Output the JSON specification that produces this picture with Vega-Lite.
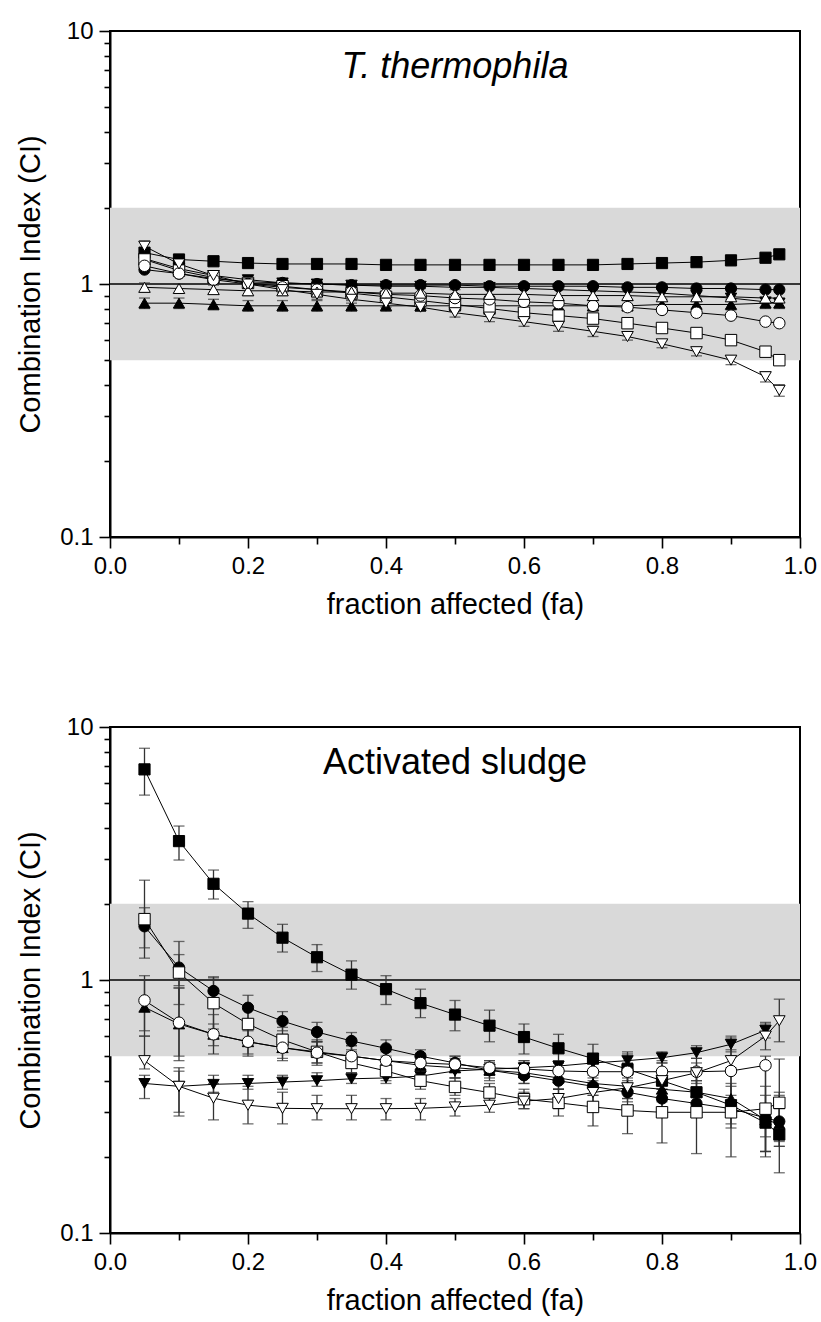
{
  "$schema": "https://vega.github.io/schema/vega-lite/v6.json",
  "padding": {"left": 15, "top": 18, "right": 10, "bottom": 10},
  "spacing": 190,
  "bounds": "flush",
  "config": {
    "font": "Liberation Sans",
    "view": {"stroke": "black", "strokeWidth": 2},
    "axis": {
      "grid": false,
      "domainColor": "black",
      "domainWidth": 2,
      "tickColor": "black",
      "tickWidth": 1.6,
      "labelColor": "black",
      "titleColor": "black",
      "labelFont": "Liberation Sans",
      "titleFont": "Liberation Sans",
      "labelFontSize": 24,
      "titleFontSize": 29,
      "titleFontWeight": "normal",
      "labelOverlap": false,
      "labelFlush": false,
      "labelBound": false
    }
  },
  "datasets": {
    "band": [{"lo": 0.5, "hi": 2, "one": 1}],
    "top": [
      {"s":"s1","fa":0.05,"ci":1.33},{"s":"s1","fa":0.1,"ci":1.25},{"s":"s1","fa":0.15,"ci":1.23},{"s":"s1","fa":0.2,"ci":1.21},{"s":"s1","fa":0.25,"ci":1.2},{"s":"s1","fa":0.3,"ci":1.2},{"s":"s1","fa":0.35,"ci":1.2},{"s":"s1","fa":0.4,"ci":1.19},{"s":"s1","fa":0.45,"ci":1.19},{"s":"s1","fa":0.5,"ci":1.19},{"s":"s1","fa":0.55,"ci":1.19},{"s":"s1","fa":0.6,"ci":1.19},{"s":"s1","fa":0.65,"ci":1.19},{"s":"s1","fa":0.7,"ci":1.19},{"s":"s1","fa":0.75,"ci":1.2},{"s":"s1","fa":0.8,"ci":1.21},{"s":"s1","fa":0.85,"ci":1.22},{"s":"s1","fa":0.9,"ci":1.24},{"s":"s1","fa":0.95,"ci":1.27},{"s":"s1","fa":0.97,"ci":1.31},
      {"s":"s2","fa":0.05,"ci":1.14},{"s":"s2","fa":0.1,"ci":1.1},{"s":"s2","fa":0.15,"ci":1.05},{"s":"s2","fa":0.2,"ci":1.02},{"s":"s2","fa":0.25,"ci":1.01},{"s":"s2","fa":0.3,"ci":1.0},{"s":"s2","fa":0.35,"ci":0.99},{"s":"s2","fa":0.4,"ci":0.99},{"s":"s2","fa":0.45,"ci":0.99},{"s":"s2","fa":0.5,"ci":0.99},{"s":"s2","fa":0.55,"ci":0.98},{"s":"s2","fa":0.6,"ci":0.98},{"s":"s2","fa":0.65,"ci":0.98},{"s":"s2","fa":0.7,"ci":0.98},{"s":"s2","fa":0.75,"ci":0.97},{"s":"s2","fa":0.8,"ci":0.97},{"s":"s2","fa":0.85,"ci":0.96},{"s":"s2","fa":0.9,"ci":0.96},{"s":"s2","fa":0.95,"ci":0.95},{"s":"s2","fa":0.97,"ci":0.95},
      {"s":"s3","fa":0.05,"ci":0.84,"lo":0.8,"hi":0.88},{"s":"s3","fa":0.1,"ci":0.84,"lo":0.8,"hi":0.88},{"s":"s3","fa":0.15,"ci":0.83,"lo":0.79,"hi":0.87},{"s":"s3","fa":0.2,"ci":0.82,"lo":0.78,"hi":0.86},{"s":"s3","fa":0.25,"ci":0.82,"lo":0.78,"hi":0.86},{"s":"s3","fa":0.3,"ci":0.82,"lo":0.78,"hi":0.86},{"s":"s3","fa":0.35,"ci":0.82,"lo":0.78,"hi":0.86},{"s":"s3","fa":0.4,"ci":0.82,"lo":0.78,"hi":0.86},{"s":"s3","fa":0.45,"ci":0.82,"lo":0.78,"hi":0.86},{"s":"s3","fa":0.5,"ci":0.82,"lo":0.78,"hi":0.86},{"s":"s3","fa":0.55,"ci":0.82,"lo":0.78,"hi":0.86},{"s":"s3","fa":0.6,"ci":0.82,"lo":0.78,"hi":0.86},{"s":"s3","fa":0.65,"ci":0.82,"lo":0.78,"hi":0.86},{"s":"s3","fa":0.7,"ci":0.82,"lo":0.78,"hi":0.86},{"s":"s3","fa":0.75,"ci":0.82,"lo":0.78,"hi":0.86},{"s":"s3","fa":0.8,"ci":0.83,"lo":0.79,"hi":0.87},{"s":"s3","fa":0.85,"ci":0.83,"lo":0.79,"hi":0.87},{"s":"s3","fa":0.9,"ci":0.83,"lo":0.79,"hi":0.87},{"s":"s3","fa":0.95,"ci":0.84,"lo":0.8,"hi":0.88},{"s":"s3","fa":0.97,"ci":0.84,"lo":0.8,"hi":0.88},
      {"s":"s4","fa":0.05,"ci":1.26},{"s":"s4","fa":0.1,"ci":1.15},{"s":"s4","fa":0.15,"ci":1.08},{"s":"s4","fa":0.2,"ci":1.04},{"s":"s4","fa":0.25,"ci":1.01},{"s":"s4","fa":0.3,"ci":1.0},{"s":"s4","fa":0.35,"ci":0.99},{"s":"s4","fa":0.4,"ci":0.98},{"s":"s4","fa":0.45,"ci":0.98},{"s":"s4","fa":0.5,"ci":0.97},{"s":"s4","fa":0.55,"ci":0.97},{"s":"s4","fa":0.6,"ci":0.96},{"s":"s4","fa":0.65,"ci":0.95},{"s":"s4","fa":0.7,"ci":0.94},{"s":"s4","fa":0.75,"ci":0.93},{"s":"s4","fa":0.8,"ci":0.92},{"s":"s4","fa":0.85,"ci":0.9},{"s":"s4","fa":0.9,"ci":0.88},{"s":"s4","fa":0.95,"ci":0.85},{"s":"s4","fa":0.97,"ci":0.84},
      {"s":"s5","fa":0.05,"ci":1.25},{"s":"s5","fa":0.1,"ci":1.13},{"s":"s5","fa":0.15,"ci":1.06},{"s":"s5","fa":0.2,"ci":1.01},{"s":"s5","fa":0.25,"ci":0.98},{"s":"s5","fa":0.3,"ci":0.95},{"s":"s5","fa":0.35,"ci":0.92},{"s":"s5","fa":0.4,"ci":0.89},{"s":"s5","fa":0.45,"ci":0.86},{"s":"s5","fa":0.5,"ci":0.83},{"s":"s5","fa":0.55,"ci":0.8},{"s":"s5","fa":0.6,"ci":0.77},{"s":"s5","fa":0.65,"ci":0.75},{"s":"s5","fa":0.7,"ci":0.73},{"s":"s5","fa":0.75,"ci":0.7},{"s":"s5","fa":0.8,"ci":0.67},{"s":"s5","fa":0.85,"ci":0.64},{"s":"s5","fa":0.9,"ci":0.6},{"s":"s5","fa":0.95,"ci":0.54},{"s":"s5","fa":0.97,"ci":0.5},
      {"s":"s6","fa":0.05,"ci":1.18},{"s":"s6","fa":0.1,"ci":1.1},{"s":"s6","fa":0.15,"ci":1.04},{"s":"s6","fa":0.2,"ci":1.0},{"s":"s6","fa":0.25,"ci":0.97},{"s":"s6","fa":0.3,"ci":0.95},{"s":"s6","fa":0.35,"ci":0.93},{"s":"s6","fa":0.4,"ci":0.91},{"s":"s6","fa":0.45,"ci":0.9},{"s":"s6","fa":0.5,"ci":0.88},{"s":"s6","fa":0.55,"ci":0.87},{"s":"s6","fa":0.6,"ci":0.85},{"s":"s6","fa":0.65,"ci":0.84},{"s":"s6","fa":0.7,"ci":0.82},{"s":"s6","fa":0.75,"ci":0.81},{"s":"s6","fa":0.8,"ci":0.79},{"s":"s6","fa":0.85,"ci":0.77},{"s":"s6","fa":0.9,"ci":0.75},{"s":"s6","fa":0.95,"ci":0.71},{"s":"s6","fa":0.97,"ci":0.7},
      {"s":"s7","fa":0.05,"ci":0.97,"lo":0.93,"hi":1.01},{"s":"s7","fa":0.1,"ci":0.96,"lo":0.92,"hi":1.0},{"s":"s7","fa":0.15,"ci":0.95,"lo":0.91,"hi":0.99},{"s":"s7","fa":0.2,"ci":0.94,"lo":0.9,"hi":0.98},{"s":"s7","fa":0.25,"ci":0.94,"lo":0.9,"hi":0.98},{"s":"s7","fa":0.3,"ci":0.93,"lo":0.89,"hi":0.97},{"s":"s7","fa":0.35,"ci":0.93,"lo":0.89,"hi":0.97},{"s":"s7","fa":0.4,"ci":0.92,"lo":0.88,"hi":0.96},{"s":"s7","fa":0.45,"ci":0.92,"lo":0.88,"hi":0.96},{"s":"s7","fa":0.5,"ci":0.91,"lo":0.87,"hi":0.95},{"s":"s7","fa":0.55,"ci":0.91},{"s":"s7","fa":0.6,"ci":0.91},{"s":"s7","fa":0.65,"ci":0.9},{"s":"s7","fa":0.7,"ci":0.9},{"s":"s7","fa":0.75,"ci":0.9},{"s":"s7","fa":0.8,"ci":0.89},{"s":"s7","fa":0.85,"ci":0.89},{"s":"s7","fa":0.9,"ci":0.89},{"s":"s7","fa":0.95,"ci":0.88},{"s":"s7","fa":0.97,"ci":0.88},
      {"s":"s8","fa":0.05,"ci":1.41,"lo":1.34,"hi":1.48},{"s":"s8","fa":0.1,"ci":1.2,"lo":1.15,"hi":1.25},{"s":"s8","fa":0.15,"ci":1.08,"lo":1.04,"hi":1.12},{"s":"s8","fa":0.2,"ci":1.0,"lo":0.96,"hi":1.04},{"s":"s8","fa":0.25,"ci":0.95,"lo":0.91,"hi":0.99},{"s":"s8","fa":0.3,"ci":0.91,"lo":0.87,"hi":0.95},{"s":"s8","fa":0.35,"ci":0.87,"lo":0.84,"hi":0.9},{"s":"s8","fa":0.4,"ci":0.84,"lo":0.81,"hi":0.87},{"s":"s8","fa":0.45,"ci":0.81,"lo":0.78,"hi":0.84},{"s":"s8","fa":0.5,"ci":0.77,"lo":0.74,"hi":0.8},{"s":"s8","fa":0.55,"ci":0.74,"lo":0.71,"hi":0.77},{"s":"s8","fa":0.6,"ci":0.71,"lo":0.68,"hi":0.74},{"s":"s8","fa":0.65,"ci":0.68,"lo":0.65,"hi":0.71},{"s":"s8","fa":0.7,"ci":0.65,"lo":0.62,"hi":0.68},{"s":"s8","fa":0.75,"ci":0.62,"lo":0.6,"hi":0.64},{"s":"s8","fa":0.8,"ci":0.58,"lo":0.56,"hi":0.6},{"s":"s8","fa":0.85,"ci":0.54,"lo":0.52,"hi":0.56},{"s":"s8","fa":0.9,"ci":0.5,"lo":0.48,"hi":0.52},{"s":"s8","fa":0.95,"ci":0.43,"lo":0.41,"hi":0.45},{"s":"s8","fa":0.97,"ci":0.38,"lo":0.36,"hi":0.4}
    ],
    "bottom": [
      {"s":"s1","fa":0.05,"ci":6.8,"lo":5.38,"hi":8.24},{"s":"s1","fa":0.1,"ci":3.54,"lo":2.98,"hi":4.06},{"s":"s1","fa":0.15,"ci":2.4,"lo":2.09,"hi":2.72},{"s":"s1","fa":0.2,"ci":1.83,"lo":1.6,"hi":2.04},{"s":"s1","fa":0.25,"ci":1.47,"lo":1.29,"hi":1.66},{"s":"s1","fa":0.3,"ci":1.23,"lo":1.08,"hi":1.38},{"s":"s1","fa":0.35,"ci":1.05,"lo":0.92,"hi":1.19},{"s":"s1","fa":0.4,"ci":0.92,"lo":0.8,"hi":1.04},{"s":"s1","fa":0.45,"ci":0.81,"lo":0.71,"hi":0.92},{"s":"s1","fa":0.5,"ci":0.73,"lo":0.63,"hi":0.83},{"s":"s1","fa":0.55,"ci":0.66,"lo":0.57,"hi":0.76},{"s":"s1","fa":0.6,"ci":0.595,"lo":0.51,"hi":0.67},{"s":"s1","fa":0.65,"ci":0.537,"lo":0.47,"hi":0.61},{"s":"s1","fa":0.7,"ci":0.489,"lo":0.42,"hi":0.557},{"s":"s1","fa":0.75,"ci":0.444,"lo":0.38,"hi":0.52},{"s":"s1","fa":0.8,"ci":0.4,"lo":0.34,"hi":0.47},{"s":"s1","fa":0.85,"ci":0.36,"lo":0.3,"hi":0.43},{"s":"s1","fa":0.9,"ci":0.32,"lo":0.26,"hi":0.39},{"s":"s1","fa":0.95,"ci":0.273,"lo":0.21,"hi":0.35},{"s":"s1","fa":0.97,"ci":0.245,"lo":0.173,"hi":0.35},
      {"s":"s2","fa":0.05,"ci":1.63,"lo":1.34,"hi":1.93},{"s":"s2","fa":0.1,"ci":1.12,"lo":0.95,"hi":1.26},{"s":"s2","fa":0.15,"ci":0.905,"lo":0.78,"hi":1.03},{"s":"s2","fa":0.2,"ci":0.777,"lo":0.7,"hi":0.87},{"s":"s2","fa":0.25,"ci":0.688,"lo":0.63,"hi":0.75},{"s":"s2","fa":0.3,"ci":0.623,"lo":0.57,"hi":0.68},{"s":"s2","fa":0.35,"ci":0.574,"lo":0.53,"hi":0.62},{"s":"s2","fa":0.4,"ci":0.537,"lo":0.5,"hi":0.58},{"s":"s2","fa":0.45,"ci":0.5,"lo":0.47,"hi":0.53},{"s":"s2","fa":0.5,"ci":0.47,"lo":0.44,"hi":0.5},{"s":"s2","fa":0.55,"ci":0.44,"lo":0.41,"hi":0.47},{"s":"s2","fa":0.6,"ci":0.42,"lo":0.39,"hi":0.45},{"s":"s2","fa":0.65,"ci":0.4,"lo":0.37,"hi":0.43},{"s":"s2","fa":0.7,"ci":0.38,"lo":0.35,"hi":0.41},{"s":"s2","fa":0.75,"ci":0.36,"lo":0.33,"hi":0.39},{"s":"s2","fa":0.8,"ci":0.34,"lo":0.31,"hi":0.37},{"s":"s2","fa":0.85,"ci":0.325,"lo":0.29,"hi":0.36},{"s":"s2","fa":0.9,"ci":0.31,"lo":0.27,"hi":0.35},{"s":"s2","fa":0.95,"ci":0.285,"lo":0.21,"hi":0.38},{"s":"s2","fa":0.97,"ci":0.276,"lo":0.22,"hi":0.36},
      {"s":"s3","fa":0.05,"ci":0.78,"lo":0.6,"hi":1.0},{"s":"s3","fa":0.1,"ci":0.67,"lo":0.48,"hi":0.93},{"s":"s3","fa":0.15,"ci":0.61,"lo":0.55,"hi":0.67},{"s":"s3","fa":0.2,"ci":0.57,"lo":0.51,"hi":0.63},{"s":"s3","fa":0.25,"ci":0.54,"lo":0.49,"hi":0.59},{"s":"s3","fa":0.3,"ci":0.52,"lo":0.47,"hi":0.57},{"s":"s3","fa":0.35,"ci":0.5,"lo":0.45,"hi":0.55},{"s":"s3","fa":0.4,"ci":0.48,"lo":0.43,"hi":0.53},{"s":"s3","fa":0.45,"ci":0.46,"lo":0.42,"hi":0.5},{"s":"s3","fa":0.5,"ci":0.45,"lo":0.41,"hi":0.49},{"s":"s3","fa":0.55,"ci":0.44,"lo":0.4,"hi":0.48},{"s":"s3","fa":0.6,"ci":0.43,"lo":0.39,"hi":0.47},{"s":"s3","fa":0.65,"ci":0.41,"lo":0.37,"hi":0.45},{"s":"s3","fa":0.7,"ci":0.39,"lo":0.35,"hi":0.43},{"s":"s3","fa":0.75,"ci":0.38,"lo":0.34,"hi":0.42},{"s":"s3","fa":0.8,"ci":0.37,"lo":0.33,"hi":0.41},{"s":"s3","fa":0.85,"ci":0.36,"lo":0.32,"hi":0.4},{"s":"s3","fa":0.9,"ci":0.34,"lo":0.3,"hi":0.38},{"s":"s3","fa":0.95,"ci":0.28,"lo":0.24,"hi":0.32},{"s":"s3","fa":0.97,"ci":0.27,"lo":0.23,"hi":0.31},
      {"s":"s4","fa":0.05,"ci":0.39,"lo":0.34,"hi":0.42},{"s":"s4","fa":0.1,"ci":0.38,"lo":0.29,"hi":0.436},{"s":"s4","fa":0.15,"ci":0.387,"lo":0.36,"hi":0.42},{"s":"s4","fa":0.2,"ci":0.39,"lo":0.37,"hi":0.42},{"s":"s4","fa":0.25,"ci":0.395,"lo":0.37,"hi":0.42},{"s":"s4","fa":0.3,"ci":0.4,"lo":0.38,"hi":0.43},{"s":"s4","fa":0.35,"ci":0.407,"lo":0.39,"hi":0.43},{"s":"s4","fa":0.4,"ci":0.41,"lo":0.39,"hi":0.43},{"s":"s4","fa":0.45,"ci":0.417,"lo":0.4,"hi":0.44},{"s":"s4","fa":0.5,"ci":0.437,"lo":0.41,"hi":0.46},{"s":"s4","fa":0.55,"ci":0.444,"lo":0.42,"hi":0.47},{"s":"s4","fa":0.6,"ci":0.45,"lo":0.43,"hi":0.48},{"s":"s4","fa":0.65,"ci":0.457,"lo":0.43,"hi":0.48},{"s":"s4","fa":0.7,"ci":0.47,"lo":0.44,"hi":0.5},{"s":"s4","fa":0.75,"ci":0.48,"lo":0.45,"hi":0.51},{"s":"s4","fa":0.8,"ci":0.493,"lo":0.47,"hi":0.52},{"s":"s4","fa":0.85,"ci":0.516,"lo":0.49,"hi":0.55},{"s":"s4","fa":0.9,"ci":0.557,"lo":0.52,"hi":0.59},{"s":"s4","fa":0.95,"ci":0.633,"lo":0.59,"hi":0.68},
      {"s":"s5","fa":0.05,"ci":1.74,"lo":1.22,"hi":2.48},{"s":"s5","fa":0.1,"ci":1.07,"lo":0.8,"hi":1.42},{"s":"s5","fa":0.15,"ci":0.81,"lo":0.64,"hi":1.02},{"s":"s5","fa":0.2,"ci":0.67,"lo":0.57,"hi":0.79},{"s":"s5","fa":0.25,"ci":0.58,"lo":0.52,"hi":0.65},{"s":"s5","fa":0.3,"ci":0.52,"lo":0.47,"hi":0.57},{"s":"s5","fa":0.35,"ci":0.47,"lo":0.43,"hi":0.52},{"s":"s5","fa":0.4,"ci":0.437,"lo":0.4,"hi":0.48},{"s":"s5","fa":0.45,"ci":0.4,"lo":0.37,"hi":0.43},{"s":"s5","fa":0.5,"ci":0.378,"lo":0.35,"hi":0.41},{"s":"s5","fa":0.55,"ci":0.359,"lo":0.33,"hi":0.39},{"s":"s5","fa":0.6,"ci":0.338,"lo":0.31,"hi":0.37},{"s":"s5","fa":0.65,"ci":0.327,"lo":0.29,"hi":0.37},{"s":"s5","fa":0.7,"ci":0.315,"lo":0.265,"hi":0.37},{"s":"s5","fa":0.75,"ci":0.305,"lo":0.247,"hi":0.37},{"s":"s5","fa":0.8,"ci":0.3,"lo":0.227,"hi":0.39},{"s":"s5","fa":0.85,"ci":0.3,"lo":0.206,"hi":0.43},{"s":"s5","fa":0.9,"ci":0.3,"lo":0.2,"hi":0.45},{"s":"s5","fa":0.95,"ci":0.31,"lo":0.21,"hi":0.45},{"s":"s5","fa":0.97,"ci":0.327,"lo":0.22,"hi":0.487},
      {"s":"s6","fa":0.05,"ci":0.83,"lo":0.63,"hi":1.04},{"s":"s6","fa":0.1,"ci":0.678,"lo":0.5,"hi":0.93},{"s":"s6","fa":0.15,"ci":0.61,"lo":0.51,"hi":0.73},{"s":"s6","fa":0.2,"ci":0.57,"lo":0.5,"hi":0.65},{"s":"s6","fa":0.25,"ci":0.54,"lo":0.48,"hi":0.61},{"s":"s6","fa":0.3,"ci":0.516,"lo":0.46,"hi":0.58},{"s":"s6","fa":0.35,"ci":0.5,"lo":0.45,"hi":0.55},{"s":"s6","fa":0.4,"ci":0.48,"lo":0.44,"hi":0.52},{"s":"s6","fa":0.45,"ci":0.47,"lo":0.44,"hi":0.5},{"s":"s6","fa":0.5,"ci":0.464,"lo":0.43,"hi":0.5},{"s":"s6","fa":0.55,"ci":0.45,"lo":0.42,"hi":0.48},{"s":"s6","fa":0.6,"ci":0.445,"lo":0.41,"hi":0.48},{"s":"s6","fa":0.65,"ci":0.437,"lo":0.4,"hi":0.47},{"s":"s6","fa":0.7,"ci":0.434,"lo":0.4,"hi":0.47},{"s":"s6","fa":0.75,"ci":0.434,"lo":0.4,"hi":0.47},{"s":"s6","fa":0.8,"ci":0.434,"lo":0.39,"hi":0.48},{"s":"s6","fa":0.85,"ci":0.434,"lo":0.39,"hi":0.49},{"s":"s6","fa":0.9,"ci":0.437,"lo":0.3,"hi":0.6},{"s":"s6","fa":0.95,"ci":0.46,"lo":0.2,"hi":0.5},
      {"s":"s8","fa":0.05,"ci":0.48,"lo":0.445,"hi":0.6},{"s":"s8","fa":0.1,"ci":0.38,"lo":0.3,"hi":0.45},{"s":"s8","fa":0.15,"ci":0.341,"lo":0.28,"hi":0.39},{"s":"s8","fa":0.2,"ci":0.32,"lo":0.27,"hi":0.38},{"s":"s8","fa":0.25,"ci":0.311,"lo":0.27,"hi":0.36},{"s":"s8","fa":0.3,"ci":0.31,"lo":0.28,"hi":0.35},{"s":"s8","fa":0.35,"ci":0.31,"lo":0.28,"hi":0.35},{"s":"s8","fa":0.4,"ci":0.31,"lo":0.28,"hi":0.34},{"s":"s8","fa":0.45,"ci":0.311,"lo":0.28,"hi":0.34},{"s":"s8","fa":0.5,"ci":0.315,"lo":0.29,"hi":0.34},{"s":"s8","fa":0.55,"ci":0.32,"lo":0.3,"hi":0.35},{"s":"s8","fa":0.6,"ci":0.332,"lo":0.31,"hi":0.36},{"s":"s8","fa":0.65,"ci":0.34,"lo":0.31,"hi":0.37},{"s":"s8","fa":0.7,"ci":0.359,"lo":0.33,"hi":0.39},{"s":"s8","fa":0.75,"ci":0.375,"lo":0.34,"hi":0.41},{"s":"s8","fa":0.8,"ci":0.4,"lo":0.37,"hi":0.44},{"s":"s8","fa":0.85,"ci":0.43,"lo":0.4,"hi":0.47},{"s":"s8","fa":0.9,"ci":0.48,"lo":0.44,"hi":0.53},{"s":"s8","fa":0.95,"ci":0.6,"lo":0.53,"hi":0.67},{"s":"s8","fa":0.97,"ci":0.69,"lo":0.57,"hi":0.84}
    ]
  },
  "vconcat": [
    {
      "width": 690,
      "height": 506,
      "layer": [
        {"data": {"name": "band"},
         "mark": {"type": "rect", "color": "#d9d9d9"},
         "encoding": {"y": {"field": "lo", "type": "quantitative", "scale": {"type": "log", "domain": [0.1, 10], "nice": false}, "title": "Combination Index (CI)"}, "y2": {"field": "hi"}}},
        {"data": {"name": "band"},
         "mark": {"type": "rule", "color": "black", "strokeWidth": 1.5},
         "encoding": {"y": {"field": "one", "type": "quantitative", "title": "Combination Index (CI)"}}},
        {"data": {"name": "top"},
         "transform": [{"filter": "isValid(datum.lo)"}],
         "mark": {"type": "errorbar", "ticks": {"size": 11}, "color": "#333333", "thickness": 1.3},
         "encoding": {"x": {"field": "fa", "type": "quantitative", "title": "fraction affected (fa)"}, "y": {"field": "lo", "type": "quantitative", "title": "Combination Index (CI)"}, "y2": {"field": "hi"}}},
        {"data": {"name": "top"},
         "mark": {"type": "line", "color": "black", "strokeWidth": 1},
         "encoding": {"x": {"field": "fa", "type": "quantitative", "title": "fraction affected (fa)"}, "y": {"field": "ci", "type": "quantitative", "title": "Combination Index (CI)"}, "detail": {"field": "s"}, "order": {"field": "fa"}}},
        {"data": {"name": "top"},
         "mark": {"type": "point", "filled": true, "stroke": "black", "strokeWidth": 1, "opacity": 1},
         "encoding": {
           "x": {"field": "fa", "type": "quantitative", "title": "fraction affected (fa)", "scale": {"domain": [0, 1], "nice": false},
                 "axis": {"values": [0, 0.1, 0.2, 0.3, 0.4, 0.5, 0.6, 0.7, 0.8, 0.9, 1],
                          "labelExpr": "round(datum.value*10) % 2 == 0 ? format(datum.value, '.1f') : ''",
                          "tickSize": {"condition": {"test": "round(datum.value*10) % 2 == 0", "value": 11}, "value": 7},
                          "labelPadding": 6, "titlePadding": 12}},
           "y": {"field": "ci", "type": "quantitative", "title": "Combination Index (CI)", "scale": {"type": "log", "domain": [0.1, 10], "nice": false},
                 "axis": {"values": [0.1, 0.2, 0.3, 0.4, 0.5, 0.6, 0.7, 0.8, 0.9, 1, 2, 3, 4, 5, 6, 7, 8, 9, 10],
                          "labelExpr": "datum.value == 0.1 ? '0.1' : datum.value == 1 ? '1' : datum.value == 10 ? '10' : ''",
                          "tickSize": {"condition": {"test": "datum.value == 0.1 || datum.value == 1 || datum.value == 10", "value": 11}, "value": 6},
                          "labelPadding": 6, "titlePadding": 14}},
           "shape": {"field": "s", "scale": {"domain": ["s1","s2","s3","s4","s5","s6","s7","s8"], "range": ["square","circle","triangle-up","triangle-down","square","circle","triangle-up","triangle-down"]}, "legend": null},
           "fill": {"field": "s", "scale": {"domain": ["s1","s2","s3","s4","s5","s6","s7","s8"], "range": ["black","black","black","black","white","white","white","white"]}, "legend": null},
           "size": {"field": "s", "type": "nominal", "scale": {"domain": ["s1","s2","s3","s4","s5","s6","s7","s8"], "range": [125, 135, 220, 220, 125, 135, 220, 220]}, "legend": null}
         }},
        {"data": {"values": [{"label": "T. thermophila", "fa": 0.5, "ci": 6.5}]},
         "mark": {"type": "text", "fontSize": 36, "fontStyle": "italic", "baseline": "alphabetic", "align": "center", "color": "black"},
         "encoding": {"x": {"field": "fa", "type": "quantitative", "title": "fraction affected (fa)"}, "y": {"field": "ci", "type": "quantitative", "title": "Combination Index (CI)"}, "text": {"field": "label"}}}
      ]
    },
    {
      "width": 690,
      "height": 506,
      "layer": [
        {"data": {"name": "band"},
         "mark": {"type": "rect", "color": "#d9d9d9"},
         "encoding": {"y": {"field": "lo", "type": "quantitative", "scale": {"type": "log", "domain": [0.1, 10], "nice": false}, "title": "Combination Index (CI)"}, "y2": {"field": "hi"}}},
        {"data": {"name": "band"},
         "mark": {"type": "rule", "color": "black", "strokeWidth": 1.5},
         "encoding": {"y": {"field": "one", "type": "quantitative", "title": "Combination Index (CI)"}}},
        {"data": {"name": "bottom"},
         "transform": [{"filter": "isValid(datum.lo)"}],
         "mark": {"type": "errorbar", "ticks": {"size": 11}, "color": "#333333", "thickness": 1.3},
         "encoding": {"x": {"field": "fa", "type": "quantitative", "title": "fraction affected (fa)"}, "y": {"field": "lo", "type": "quantitative", "title": "Combination Index (CI)"}, "y2": {"field": "hi"}}},
        {"data": {"name": "bottom"},
         "mark": {"type": "line", "color": "black", "strokeWidth": 1},
         "encoding": {"x": {"field": "fa", "type": "quantitative", "title": "fraction affected (fa)"}, "y": {"field": "ci", "type": "quantitative", "title": "Combination Index (CI)"}, "detail": {"field": "s"}, "order": {"field": "fa"}}},
        {"data": {"name": "bottom"},
         "mark": {"type": "point", "filled": true, "stroke": "black", "strokeWidth": 1, "opacity": 1},
         "encoding": {
           "x": {"field": "fa", "type": "quantitative", "title": "fraction affected (fa)", "scale": {"domain": [0, 1], "nice": false},
                 "axis": {"values": [0, 0.1, 0.2, 0.3, 0.4, 0.5, 0.6, 0.7, 0.8, 0.9, 1],
                          "labelExpr": "round(datum.value*10) % 2 == 0 ? format(datum.value, '.1f') : ''",
                          "tickSize": {"condition": {"test": "round(datum.value*10) % 2 == 0", "value": 11}, "value": 7},
                          "labelPadding": 6, "titlePadding": 12}},
           "y": {"field": "ci", "type": "quantitative", "title": "Combination Index (CI)", "scale": {"type": "log", "domain": [0.1, 10], "nice": false},
                 "axis": {"values": [0.1, 0.2, 0.3, 0.4, 0.5, 0.6, 0.7, 0.8, 0.9, 1, 2, 3, 4, 5, 6, 7, 8, 9, 10],
                          "labelExpr": "datum.value == 0.1 ? '0.1' : datum.value == 1 ? '1' : datum.value == 10 ? '10' : ''",
                          "tickSize": {"condition": {"test": "datum.value == 0.1 || datum.value == 1 || datum.value == 10", "value": 11}, "value": 6},
                          "labelPadding": 6, "titlePadding": 14}},
           "shape": {"field": "s", "scale": {"domain": ["s1","s2","s3","s4","s5","s6","s7","s8"], "range": ["square","circle","triangle-up","triangle-down","square","circle","triangle-up","triangle-down"]}, "legend": null},
           "fill": {"field": "s", "scale": {"domain": ["s1","s2","s3","s4","s5","s6","s7","s8"], "range": ["black","black","black","black","white","white","white","white"]}, "legend": null},
           "size": {"field": "s", "type": "nominal", "scale": {"domain": ["s1","s2","s3","s4","s5","s6","s7","s8"], "range": [125, 135, 220, 220, 125, 135, 220, 220]}, "legend": null}
         }},
        {"data": {"values": [{"label": "Activated sludge", "fa": 0.5, "ci": 6.5}]},
         "mark": {"type": "text", "fontSize": 36, "baseline": "alphabetic", "align": "center", "color": "black"},
         "encoding": {"x": {"field": "fa", "type": "quantitative", "title": "fraction affected (fa)"}, "y": {"field": "ci", "type": "quantitative", "title": "Combination Index (CI)"}, "text": {"field": "label"}}}
      ]
    }
  ]
}
